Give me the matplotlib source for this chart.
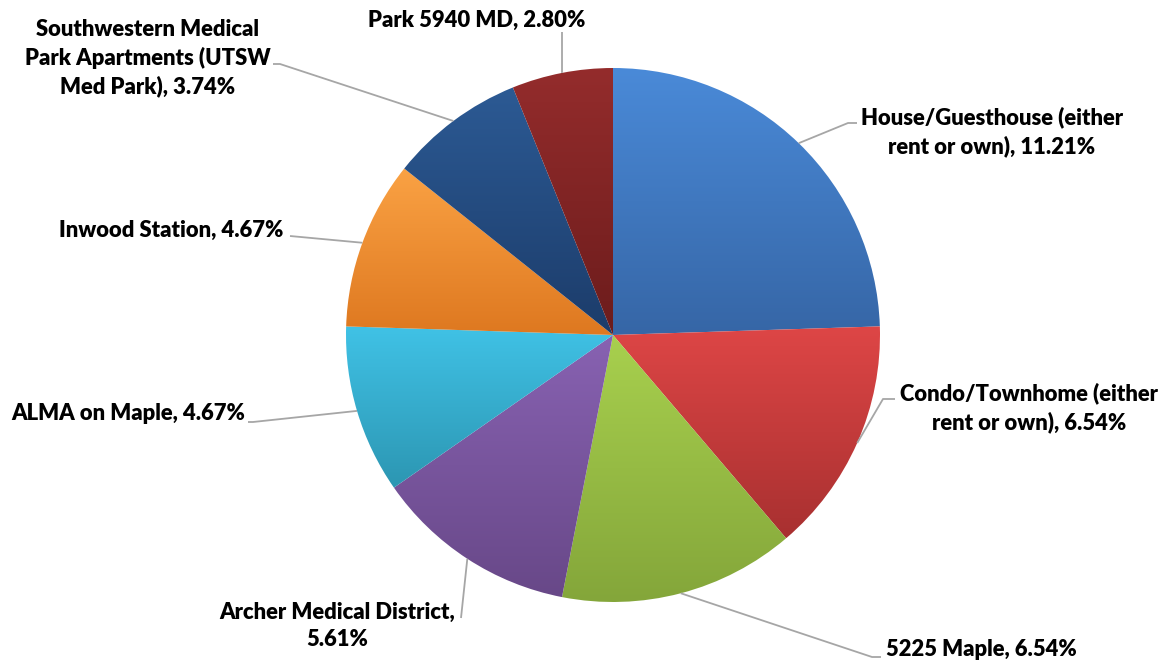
import numpy as np
import matplotlib
matplotlib.use("Agg")
import matplotlib.pyplot as plt
from matplotlib.patches import Wedge
from matplotlib.colors import LinearSegmentedColormap

# data
labels = ["House/Guesthouse (either\nrent or own), 11.21%",
          "Condo/Townhome (either\nrent or own), 6.54%",
          "5225 Maple, 6.54%",
          "Archer Medical District,\n5.61%",
          "ALMA on Maple, 4.67%",
          "Inwood Station, 4.67%",
          "Southwestern Medical\nPark Apartments (UTSW\nMed Park), 3.74%",
          "Park 5940 MD, 2.80%"]
values = [11.21, 6.54, 6.54, 5.61, 4.67, 4.67, 3.74, 2.80]

# gradient colours, top -> bottom
top_colors = ["#4A8AD8", "#DE4646", "#A8D04E", "#8862B2", "#40C2E6", "#FAA244", "#2C5A94", "#942C2C"]
bot_colors = ["#3666A6", "#A83030", "#84A63A", "#684888", "#2C96B2", "#DE7820", "#1C3C6A", "#6C1C1C"]

W, H = 1169, 664
cx, cy, r = 613, 335, 267

# label centres and leader elbow points (pixels from top-left)
text_pos = [(992, 132), (1029, 408), (981, 650), (337, 626),
            (128, 413), (171, 230), (148, 58), (477, 20)]
elbows = [[(848, 123), (857, 123)],
          [(883, 399), (895, 399)],
          [(872, 657), (881, 657)],
          [(461, 618)],
          [(253, 422), (248, 422)],
          [(290, 236)],
          [(280, 64), (273, 64)],
          [(562, 32)]]


def fy(y):
    return H - y


fig = plt.figure(figsize=(W / 100, H / 100), dpi=100)
ax = fig.add_axes([0, 0, 1, 1])

total = sum(values)
start = 0.0
for i, v in enumerate(values):
    sweep = v / total * 360
    t2 = 90 - start
    t1 = 90 - start - sweep
    w = Wedge((cx, fy(cy)), r, t1, t2, facecolor="none", edgecolor="none")
    ax.add_patch(w)
    ext = w.get_path().get_extents()
    cmap = LinearSegmentedColormap.from_list("g%d" % i, [top_colors[i], bot_colors[i]])
    grad = np.linspace(0, 1, 256).reshape(-1, 1)
    im = ax.imshow(grad, cmap=cmap, aspect="auto", origin="upper",
                   extent=(ext.x0, ext.x1, ext.y0, ext.y1), interpolation="bilinear")
    im.set_clip_path(w)

    # leader line from slice mid-angle on the edge
    mid = np.deg2rad((t1 + t2) / 2)
    ex = cx + r * np.cos(mid)
    ey = fy(cy) + r * np.sin(mid)
    xs = [ex] + [p[0] for p in elbows[i]]
    ys = [ey] + [fy(p[1]) for p in elbows[i]]
    ax.plot(xs, ys, color="#A6A6A6", lw=1.3, solid_capstyle="butt", zorder=3)

    tx, ty = text_pos[i]
    ax.text(tx, fy(ty), labels[i], ha="center", va="center", multialignment="center",
            fontsize=15.8, fontweight="heavy", family="Lato", color="#000000",
            linespacing=1.38, zorder=4)
    start += sweep

ax.set_xlim(0, W)
ax.set_ylim(0, H)
ax.axis("off")

fig.savefig("out.png", dpi=100, facecolor="white")
